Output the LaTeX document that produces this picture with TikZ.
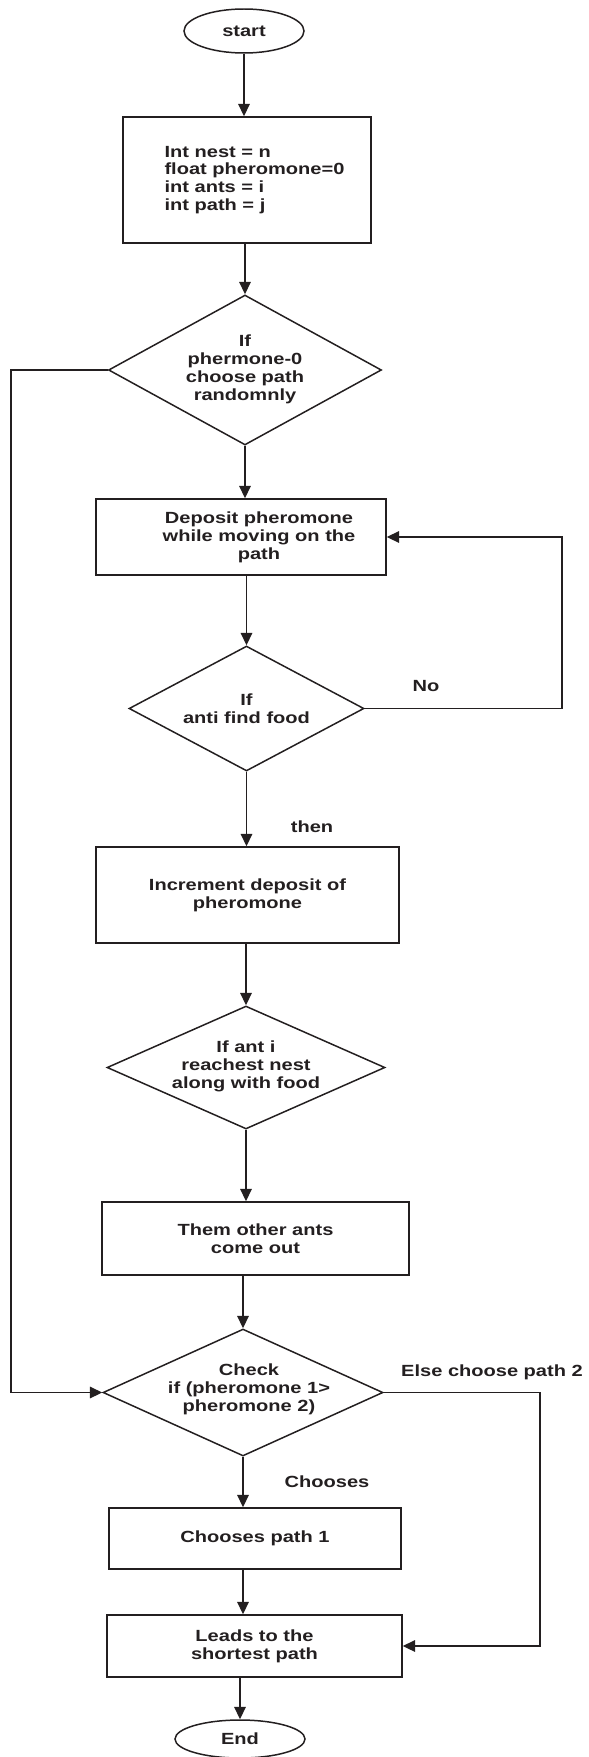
\documentclass[tikz,border=0pt]{standalone}
\usepackage{fontspec}
\setmainfont{Liberation Sans}[FakeStretch=1.24]
\usetikzlibrary{shapes.geometric,arrows.meta}
\definecolor{ink}{RGB}{35,31,32}
\newcommand{\flowfont}{\fontsize{9.2pt}{10.2pt}\selectfont\bfseries}
\tikzset{
	flow/.style={draw=ink, line width=0.85pt, text=ink, inner sep=0pt, font=\flowfont},
	termbox/.style={flow, ellipse},
	procbox/.style={flow, rectangle, align=center},
	decbox/.style={flow, diamond},
	dectext/.style={text=ink, font=\flowfont, align=center, inner sep=0pt},
	note/.style={text=ink, font=\flowfont},
	link/.style={draw=ink, line width=0.85pt, -{Triangle[length=7pt,width=6.5pt]}}
}
\begin{document}
\begin{tikzpicture}[x=0.02cm, y=-0.02cm]
	\useasboundingbox (0,0) rectangle (588,1757);
	\node[termbox, minimum width=2.4cm, minimum height=0.88cm]	(start)	at (244,31)	{start};
	\node[procbox, minimum width=4.96cm, minimum height=2.52cm,
		label={[dectext, align=left, xshift=0.15cm]center:Int nest = n\\float pheromone=0\\int ants = i\\int path = j}]	(init)	at (247,180)	{};
	\node[decbox, minimum width=5.46cm, minimum height=3cm]	(d1)	at (245,370)	{};
	\node[dectext]	(d1txt)	at (245,369)	{If\\phermone-0\\choose path\\randomnly};
	\node[procbox, minimum width=5.8cm, minimum height=1.52cm,
		label={[dectext, xshift=0.36cm]center:Deposit pheromone\\while moving on the\\path}]	(deposit)	at (241,537)	{};
	\node[decbox, minimum width=4.7cm, minimum height=2.5cm]	(d2)	at (246.5,708.5)	{};
	\node[dectext]	(d2txt)	at (246.5,708.5)	{If\\anti find food};
	\node[procbox, minimum width=6.06cm, minimum height=1.92cm]	(incr)	at (247.5,895)	{Increment deposit of\\pheromone};
	\node[decbox, minimum width=5.56cm, minimum height=2.46cm]	(d3)	at (246,1067.5)	{};
	\node[dectext]	(d3txt)	at (246,1066.5)	{If ant i\\reachest nest\\along with food};
	\node[procbox, minimum width=6.14cm, minimum height=1.46cm]	(others)	at (255.5,1238.5)	{Them other ants\\come out};
	\node[decbox, minimum width=5.6cm, minimum height=2.54cm]	(check)	at (243,1392.5)	{};
	\node[dectext]	(checktxt)	at (249,1389.5)	{Check\\if (pheromone 1>\\pheromone 2)};
	\node[procbox, minimum width=5.84cm, minimum height=1.22cm]	(choose1)	at (255,1538.5)	{Chooses path 1};
	\node[procbox, minimum width=5.9cm, minimum height=1.24cm]	(leads)	at (254.5,1646)	{Leads to the\\shortest path};
	\node[termbox, minimum width=2.6cm, minimum height=0.76cm]	(end)	at (240,1739)	{End};
	\node[note]	(nolab)	at (426,686)	{No};
	\node[note]	(thenlab)	at (312,827)	{then};
	\node[note]	(elselab)	at (492,1372)	{Else choose path 2};
	\node[note]	(chooseslab)	at (327,1482)	{Chooses};
	\coordinate (leftbot) at (11,1392.5);
	\coordinate (noright) at (562,537);
	\coordinate (elseright) at (540,1646);
	\draw[link]	(start.south) -- (start.south |- init.north);
	\draw[link]	(d1.north |- init.south) -- (d1.north);
	\draw[link]	(d1.south) -- (d1.south |- deposit.north);
	\draw[link]	(d2.north |- deposit.south) -- (d2.north);
	\draw[link]	(d2.south) -- (d2.south |- incr.north);
	\draw[link]	(d3.north |- incr.south) -- (d3.north);
	\draw[link]	(d3.south) -- (d3.south |- others.north);
	\draw[link]	(check.north |- others.south) -- (check.north);
	\draw[link]	(check.south) -- (check.south |- choose1.north);
	\draw[link]	(check.south |- choose1.south) -- (check.south |- leads.north);
	\draw[link]	(end.north |- leads.south) -- (end.north);
	\draw[link]	(d1.west) -| (leftbot) -- (check.west);
	\draw[link]	(d2.east) -| (noright) -- (deposit.east);
	\draw[link]	(check.east) -| (elseright) -- (leads.east);
\end{tikzpicture}
\end{document}
